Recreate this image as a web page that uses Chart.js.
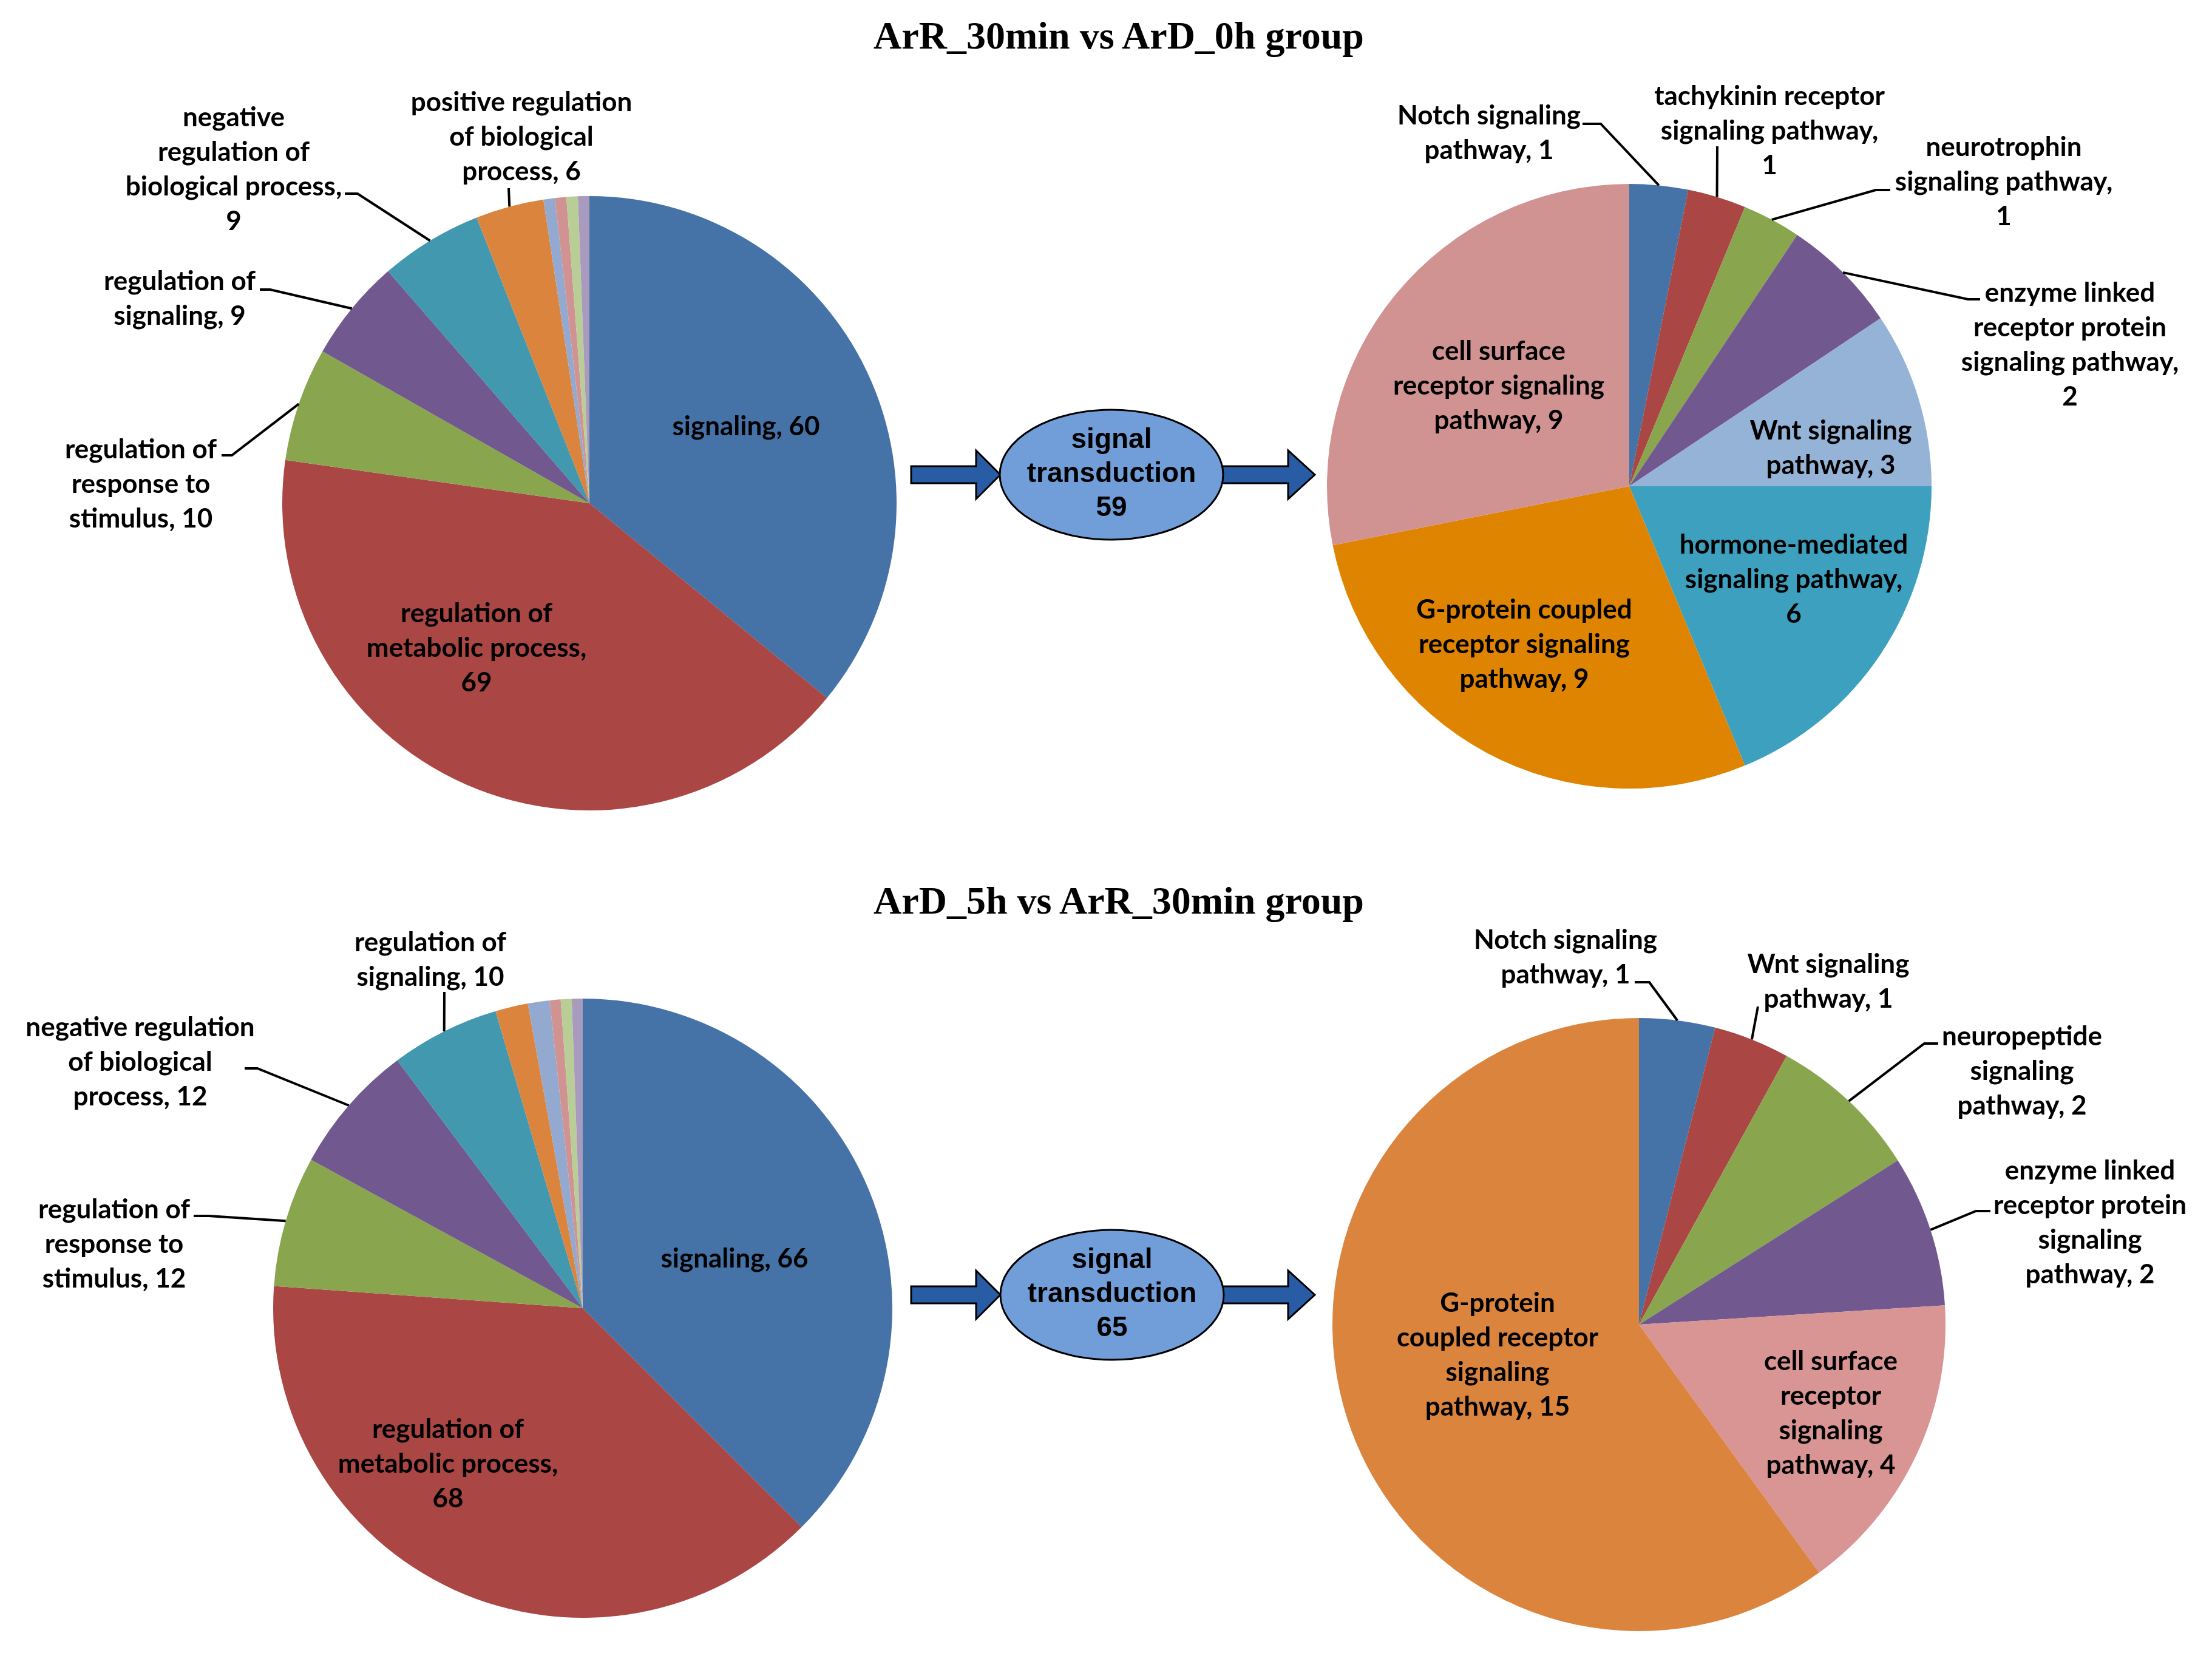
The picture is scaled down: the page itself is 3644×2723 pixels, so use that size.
<!DOCTYPE html>
<html>
<head>
<meta charset="utf-8">
<script src="https://cdn.jsdelivr.net/npm/chart.js@4.4.0/dist/chart.umd.min.js"></script>
<style>
  html, body { margin: 0; padding: 0; background: #fff; }
  #page { position: relative; width: 3644px; height: 2723px; overflow: hidden; background: #fff; }
  canvas { position: absolute; }
  svg { position: absolute; left: 0; top: 0; pointer-events: none; }
</style>
</head>
<body>
<div id="page">
  <canvas id="pieTopProcess"></canvas>
  <canvas id="pieTopPathway"></canvas>
  <canvas id="pieBottomProcess"></canvas>
  <canvas id="pieBottomPathway"></canvas>
  <svg id="deco" width="3644" height="2723"></svg>
</div>
<script>
// ---- data ----
const groupTitles = ["ArR_30min vs ArD_0h group", "ArD_5h vs ArR_30min group"];
const transductionCounts = [59, 65];

const topProcessLabels = ["signaling", "regulation of metabolic process", "regulation of response to stimulus",
  "regulation of signaling", "negative regulation of biological process", "positive regulation of biological process",
  "other", "other", "other", "other"];
const topProcessValues = [60, 69, 10, 9, 9, 6, 1, 1, 1, 1];

const topPathwayLabels = ["Notch signaling pathway", "tachykinin receptor signaling pathway", "neurotrophin signaling pathway",
  "enzyme linked receptor protein signaling pathway", "Wnt signaling pathway", "hormone-mediated signaling pathway",
  "G-protein coupled receptor signaling pathway", "cell surface receptor signaling pathway"];
const topPathwayValues = [1, 1, 1, 2, 3, 6, 9, 9];

const bottomProcessLabels = ["signaling", "regulation of metabolic process", "regulation of response to stimulus",
  "negative regulation of biological process", "regulation of signaling", "other", "other", "other", "other", "other"];
const bottomProcessValues = [66, 68, 12, 12, 10, 3, 2, 1, 1, 1];

const bottomPathwayLabels = ["Notch signaling pathway", "Wnt signaling pathway", "neuropeptide signaling pathway",
  "enzyme linked receptor protein signaling pathway", "cell surface receptor signaling pathway",
  "G-protein coupled receptor signaling pathway"];
const bottomPathwayValues = [1, 1, 2, 2, 4, 15];

// ---- styles ----
const processColors = ["#4572A7", "#AA4643", "#89A54E", "#71588F", "#4198AF", "#DB843D", "#93A9CF", "#D19392", "#B9CD96", "#A99BBD"];
const topPathwayColors = ["#4572A7", "#AA4643", "#89A54E", "#71588F", "#95B3D7", "#3DA0BE", "#DF8400", "#D19392"];
const bottomPathwayColors = ["#4572A7", "#AA4643", "#89A54E", "#71588F", "#D99594", "#DB843D"];

const LINE = 57;
const LABEL_FONT = "bold 44px Lato";

// label layout: i = slice index, x/y = centre of first text line, br = words per line,
// lead = leader start point (and optional elbow), the end is taken from the arc itself
const topProcessItems = [
  { i: 0, x: 1229, y: 703, br: [2] },
  { i: 1, x: 785, y: 1011, br: [2, 2, 1] },
  { i: 2, x: 232, y: 741, br: [2, 2, 2], lead: [365, 750, 382, 750] },
  { i: 3, x: 296, y: 464, br: [2, 2], lead: [428, 477, 445, 477] },
  { i: 4, x: 385, y: 194, br: [1, 2, 2, 1], lead: [568, 319, 589, 319] },
  { i: 5, x: 859, y: 169, br: [2, 2, 2], lead: [838, 310] }
];
const topPathwayItems = [
  { i: 0, x: 2453, y: 191, br: [2, 2], lead: [2607, 204, 2637, 204] },
  { i: 1, x: 2915, y: 159, br: [2, 2, 1], lead: [2829, 241] },
  { i: 2, x: 3301, y: 243, br: [1, 2, 1], lead: [3114, 313, 3090, 313] },
  { i: 3, x: 3410, y: 483, br: [2, 2, 2, 1], lead: [3262, 493, 3242, 493] },
  { i: 4, x: 3016, y: 710, br: [2, 2] },
  { i: 5, x: 2955, y: 898, br: [1, 2, 1] },
  { i: 6, x: 2511, y: 1005, br: [2, 2, 2] },
  { i: 7, x: 2469, y: 579, br: [2, 2, 2] }
];
const bottomProcessItems = [
  { i: 0, x: 1210, y: 2074, br: [2] },
  { i: 1, x: 738, y: 2355, br: [2, 2, 1] },
  { i: 2, x: 188, y: 1993, br: [2, 2, 2], lead: [319, 2003, 344, 2003] },
  { i: 3, x: 231, y: 1693, br: [2, 2, 2], lead: [403, 1760, 424, 1760] },
  { i: 4, x: 709, y: 1553, br: [2, 2], lead: [732, 1634] }
];
const bottomPathwayItems = [
  { i: 0, x: 2579, y: 1549, br: [2, 2], lead: [2693, 1618, 2717, 1618] },
  { i: 1, x: 3012, y: 1589, br: [2, 2], lead: [2896, 1658] },
  { i: 2, x: 3331, y: 1708, br: [1, 1, 2], lead: [3193, 1719, 3170, 1719] },
  { i: 3, x: 3443, y: 1929, br: [2, 2, 1, 2], lead: [3279, 1995, 3255, 1995] },
  { i: 4, x: 3016, y: 2243, br: [2, 1, 1, 2] },
  { i: 5, x: 2467, y: 2147, br: [1, 2, 1, 2] }
];

// draws "name, value" labels and leader lines
const sliceLabels = {
  id: 'sliceLabels',
  afterDatasetsDraw(chart, args, opts) {
    const ctx = chart.ctx;
    const meta = chart.getDatasetMeta(0);
    const values = chart.data.datasets[0].data;
    const ox = opts.box.x, oy = opts.box.y;
    ctx.save();
    ctx.fillStyle = '#000';
    ctx.strokeStyle = '#000';
    ctx.lineWidth = 4;
    ctx.font = LABEL_FONT;
    ctx.textAlign = 'center';
    ctx.textBaseline = 'middle';
    opts.items.forEach(it => {
      const words = `${chart.data.labels[it.i]}, ${values[it.i]}`.split(' ');
      let k = 0;
      it.br.forEach((n, li) => {
        ctx.fillText(words.slice(k, k + n).join(' '), it.x - ox, it.y - oy + li * LINE);
        k += n;
      });
      if (it.lead) {
        const arc = meta.data[it.i];
        const mid = (arc.startAngle + arc.endAngle) / 2;
        const px = arc.x + Math.cos(mid) * arc.outerRadius;
        const py = arc.y + Math.sin(mid) * arc.outerRadius;
        ctx.beginPath();
        ctx.moveTo(it.lead[0] - ox, it.lead[1] - oy);
        if (it.lead.length > 2) ctx.lineTo(it.lead[2] - ox, it.lead[3] - oy);
        ctx.lineTo(px, py);
        ctx.stroke();
      }
    });
    ctx.restore();
  }
};

function makePie(id, box, center, radius, labels, values, colors, items) {
  const cv = document.getElementById(id);
  cv.width = box.w;
  cv.height = box.h;
  cv.style.left = box.x + 'px';
  cv.style.top = box.y + 'px';
  cv.style.width = box.w + 'px';
  cv.style.height = box.h + 'px';
  const pad = {
    left: center[0] - radius - box.x,
    right: box.x + box.w - center[0] - radius,
    top: center[1] - radius - box.y,
    bottom: box.y + box.h - center[1] - radius
  };
  return new Chart(cv, {
    type: 'pie',
    data: {
      labels: labels,
      datasets: [{ data: values, backgroundColor: colors, borderWidth: 0, hoverOffset: 0, offset: 0 }]
    },
    options: {
      responsive: false,
      devicePixelRatio: 1,
      animation: false,
      events: [],
      radius: radius,
      layout: { padding: pad },
      plugins: {
        legend: { display: false },
        tooltip: { enabled: false },
        sliceLabels: { box: box, items: items }
      }
    },
    plugins: [sliceLabels]
  });
}

makePie('pieTopProcess', { x: 0, y: 110, w: 1490, h: 1310 }, [971, 829], 506,
  topProcessLabels, topProcessValues, processColors, topProcessItems);
makePie('pieTopPathway', { x: 2176, y: 110, w: 1468, h: 1310 }, [2684, 801], 498,
  topPathwayLabels, topPathwayValues, topPathwayColors, topPathwayItems);
makePie('pieBottomProcess', { x: 0, y: 1520, w: 1490, h: 1203 }, [960, 2155], 510,
  bottomProcessLabels, bottomProcessValues, processColors, bottomProcessItems);
makePie('pieBottomPathway', { x: 2176, y: 1520, w: 1468, h: 1203 }, [2700, 2182], 505,
  bottomPathwayLabels, bottomPathwayValues, bottomPathwayColors, bottomPathwayItems);

// ---- titles, arrows and "signal transduction" ellipses ----
const NS = 'http://www.w3.org/2000/svg';
const svg = document.getElementById('deco');
function el(tag, attrs, text) {
  const e = document.createElementNS(NS, tag);
  Object.keys(attrs).forEach(k => e.setAttribute(k, attrs[k]));
  if (text !== undefined) e.textContent = text;
  svg.appendChild(e);
  return e;
}
function arrow(x0, xb, xt, cy) {
  const pts = [[x0, cy - 14], [xb, cy - 14], [xb, cy - 40], [xt, cy], [xb, cy + 40], [xb, cy + 14], [x0, cy + 14]];
  el('polygon', { points: pts.map(p => p.join(',')).join(' '), fill: '#285CA5', stroke: '#000', 'stroke-width': 3 });
}

const rows = [
  { titleY: 80, cy: 782, cx: 1831 },
  { titleY: 1505, cy: 2133, cx: 1832 }
];
rows.forEach((r, k) => {
  el('text', { x: 1843, y: r.titleY, 'text-anchor': 'middle', 'font-family': 'Liberation Serif, Times New Roman, serif',
    'font-weight': 'bold', 'font-size': 64, fill: '#000' }, groupTitles[k]);
  arrow(1501, 1608, 1648, r.cy);
  arrow(2010, 2122, 2166, r.cy);
  el('ellipse', { cx: r.cx, cy: r.cy, rx: 184, ry: 107, fill: '#719ED9', stroke: '#000', 'stroke-width': 3 });
  ['signal', 'transduction', String(transductionCounts[k])].forEach((t, li) => {
    el('text', { x: r.cx, y: r.cy - 44 + li * 56, 'text-anchor': 'middle', 'font-family': 'Liberation Sans, Arial, sans-serif',
      'font-weight': 'bold', 'font-size': 46, fill: '#000' }, t);
  });
});
</script>
</body>
</html>
